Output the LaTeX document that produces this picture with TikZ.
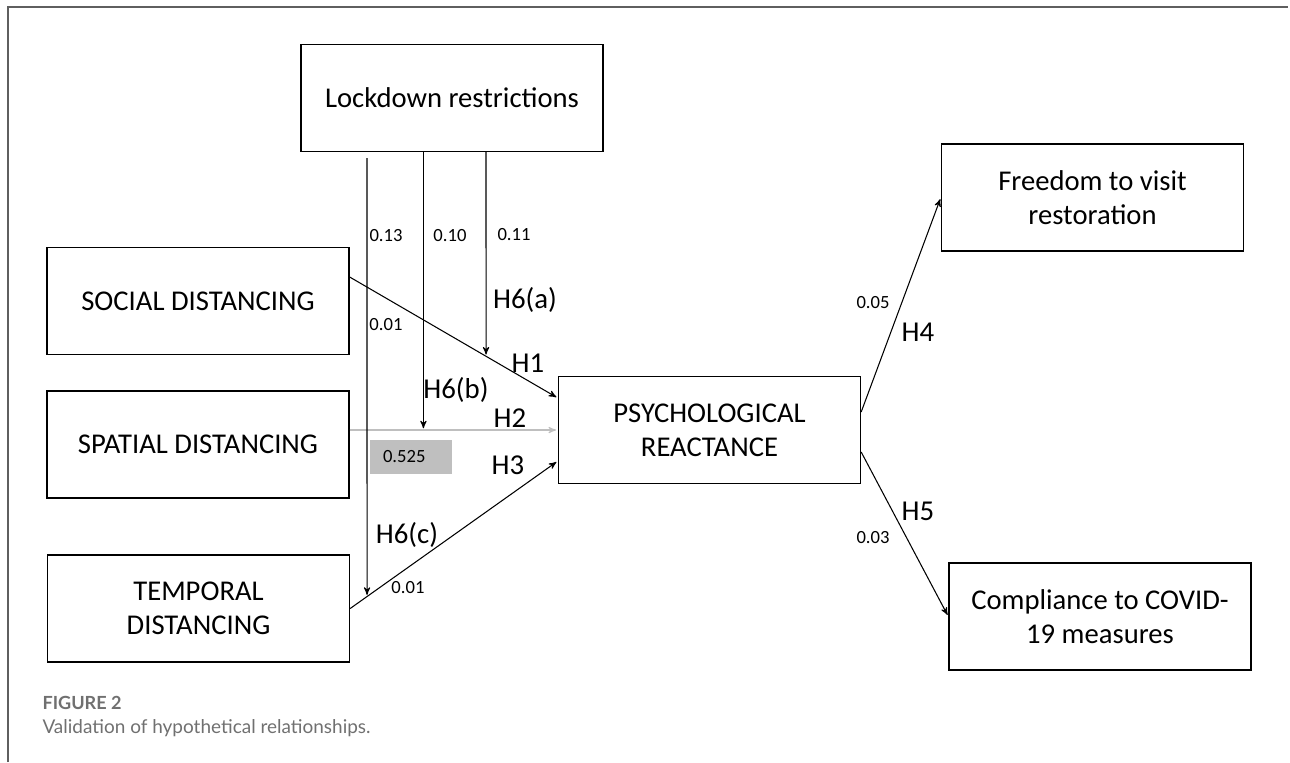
\documentclass[tikz,border=0pt]{standalone}
\usepackage{fontspec}
\setmainfont{Carlito}
\newfontfamily\capfont{Lato}
\usepackage{tikz}
\usetikzlibrary{arrows,calc}
\definecolor{frameline}{HTML}{5F5F5F}
\definecolor{captext}{HTML}{707070}
\definecolor{spatialgray}{HTML}{BFBFBF}
\tikzset{
    varnode/.style={draw=black,line width=0.8pt,align=center,inner sep=0pt,minimum width=6.04cm,minimum height=2.14cm,font=\fontsize{16.3}{19.3}\selectfont},
    hlabel/.style={inner sep=0pt,font=\fontsize{16.4}{18}\selectfont},
    coef/.style={inner sep=0pt,font=\fontsize{10.6}{12}\selectfont},
    valuebox/.style={fill=spatialgray,inner xsep=0.26cm,inner ysep=0pt,text width=1.12cm,align=left,minimum height=0.68cm,font=\fontsize{10.6}{12}\selectfont},
    captitle/.style={inner sep=0pt,text=captext,font=\capfont\bfseries\fontsize{10.3}{12}\selectfont},
    captext/.style={inner sep=0pt,text=captext,font=\capfont\fontsize{10.8}{13}\selectfont}
}

\begin{document}
\begin{tikzpicture}[x=0.02cm,y=-0.02cm,->,>=stealth',shorten >=1pt,line width=0.6pt]
\useasboundingbox (0,0) rectangle (1290,762);
\draw[-,frameline,line width=0.9pt] (8,762) -- (8,7) -- (1290,7);

% constructs
\node[varnode] (LR) at (452,98) {Lockdown restrictions};
\node[varnode] (SD) at (198,301) {SOCIAL DISTANCING};
\node[varnode] (SP) at (198,444.5) {SPATIAL DISTANCING};
\node[varnode] (TD) at (198.5,608.5) {TEMPORAL\\DISTANCING};
\node[varnode] (PR) at (709.5,430) {PSYCHOLOGICAL\\REACTANCE};
\node[varnode] (FV) at (1092.5,197.5) {Freedom to visit\\restoration};
\node[varnode] (CC) at (1100,616.5) {Compliance to COVID-\\19 measures};

% end points of the paths
\coordinate (SDout) at ($(SD.east)+(0,-24)$);
\coordinate (H1in) at ($(PR.west)+(0,-32)$);
\coordinate (SPout) at (SP.east |- PR.west);
\coordinate (H3in) at ($(PR.west)+(0,31)$);
\coordinate (PRup) at ($(PR.east)+(0,-18)$);
\coordinate (PRdn) at ($(PR.east)+(0,22)$);
\coordinate (M1) at ($(LR.south)+(-85,6)$);
\coordinate (M2) at ($(LR.south)+(-28.6,0)$);
\coordinate (M3) at ($(LR.south)+(34,0)$);
\coordinate (M1b) at (M1 |- TD.east);
\coordinate (M3b) at (M3 |- H1in);
\coordinate (E1) at (intersection of M1--M1b and TD.east--H3in);
\coordinate (E2) at (M2 |- PR.west);
\coordinate (E3) at (intersection of M3--M3b and SDout--H1in);

\draw (SDout) -- (H1in);
\draw[spatialgray] (SPout) -- (PR.west);
\draw (TD.east) -- (H3in);
\draw (M1) -- (E1);
\draw (M2) -- (E2);
\draw (M3) -- (E3);
\draw (PRup) -- (FV.west);
\draw (PRdn) -- (CC.west);

\node[valuebox] (VB) at (411,457) {0.525};

% path labels
\node[coef,anchor=west] (c13) at (369,236) {0.13};
\node[coef] (c10) at (450,236) {0.10};
\node[coef] (c11) at (514,235) {0.11};
\node[coef] (c01a) at (386,325) {0.01};
\node[coef] (c01b) at (408,588) {0.01};
\node[coef] (c05) at (873,303) {0.05};
\node[coef] (c03) at (873,538) {0.03};
\node[hlabel] (H6a) at (525,300) {H6(a)};
\node[hlabel] (H1) at (528,363) {H1};
\node[hlabel] (H6b) at (456,390) {H6(b)};
\node[hlabel] (H2) at (510,418) {H2};
\node[hlabel] (H3) at (508,465) {H3};
\node[hlabel] (H6c) at (407,535) {H6(c)};
\node[hlabel] (H4) at (918,332) {H4};
\node[hlabel] (H5) at (918,511) {H5};

% caption
\node[captitle,anchor=base west] (FIG) at (42,709) {FIGURE 2};
\node[captext,anchor=base west] (CAP) at (42,733) {Validation of hypothetical relationships.};
\end{tikzpicture}
\end{document}
